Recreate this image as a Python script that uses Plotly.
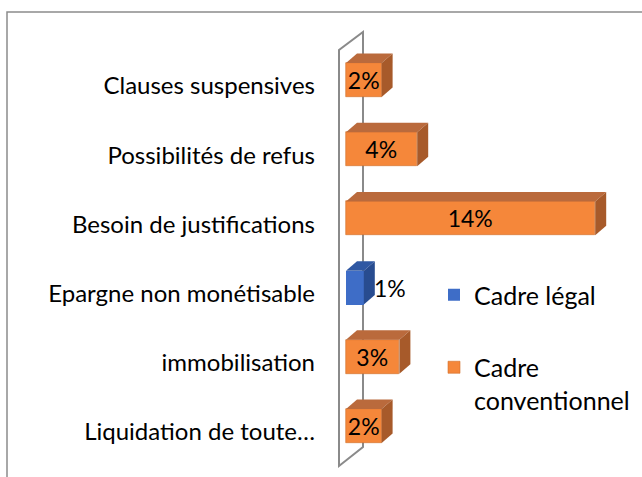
import plotly.graph_objects as go

# ---- data ----
categories = ["Liquidation de toute…", "immobilisation", "Epargne non monétisable",
              "Besoin de justifications", "Possibilités de refus", "Clauses suspensives"]
cadre_legal = [None, None, 1, None, None, None]
cadre_conventionnel = [2, 3, None, 14, 4, 2]
series_names = ["Cadre légal", "Cadre<br>conventionnel"]

# ---- style / geometry ----
W, H = 642, 477
ML, MR, MT, MB = 330, 12, 20, 7
PX_PER_UNIT_X = 17.8          # pixels per 1 %
PX_PER_CAT = 69.2             # pixels per category step
ZERO_PX = 346                 # pixel of value 0
FIRST_CAT_PX = 426            # pixel of the bottom category centre
BAR_W = 0.49
DX = 11 / PX_PER_UNIT_X       # 3D depth in x units
DY = 9.5 / PX_PER_CAT         # 3D depth in category units

x0 = (ML - ZERO_PX) / PX_PER_UNIT_X
x1 = (W - MR - ZERO_PX) / PX_PER_UNIT_X
y0 = (FIRST_CAT_PX - (H - MB)) / PX_PER_CAT
y1 = (FIRST_CAT_PX - MT) / PX_PER_CAT

colors = {
    "legal": dict(front="#3E6DC7", top="#2F58A3", side="#284C90"),
    "conv": dict(front="#F5873A", top="#BA6A3C", side="#A75A2A"),
}
FONT = "Lato"

fig = go.Figure()
fig.add_trace(go.Bar(
    y=categories, x=cadre_legal, orientation="h", name=series_names[0],
    width=BAR_W, marker=dict(color=colors["legal"]["front"], line=dict(width=0)),
    legendgroup="a", hoverinfo="skip"))
fig.add_trace(go.Bar(
    y=categories, x=cadre_conventionnel, orientation="h", name=series_names[1],
    width=BAR_W, marker=dict(color=colors["conv"]["front"],
                             line=dict(width=0.6, color="#D0702C")),
    text=[f"{v}%" if v is not None else "" for v in cadre_conventionnel],
    textposition="inside", insidetextanchor="middle", constraintext="none",
    textfont=dict(family=FONT, size=23, color="black"),
    legendgroup="b", hoverinfo="skip"))

shapes = []
# wall (parallelogram outline) behind the bars
wx_front = (339 - ZERO_PX) / PX_PER_UNIT_X
wx_back = (363 - ZERO_PX) / PX_PER_UNIT_X
wy_top_front = (FIRST_CAT_PX - 50) / PX_PER_CAT
wy_top_back = (FIRST_CAT_PX - 32) / PX_PER_CAT
wy_bot_front = (FIRST_CAT_PX - 466) / PX_PER_CAT
wy_bot_back = (FIRST_CAT_PX - 447) / PX_PER_CAT
shapes.append(dict(
    type="path", xref="x", yref="y", layer="below",
    path=(f"M{wx_front},{wy_bot_front} L{wx_front},{wy_top_front} "
          f"L{wx_back},{wy_top_back} L{wx_back},{wy_bot_back} Z"),
    line=dict(color="#8A8A8A", width=2), fillcolor="rgba(0,0,0,0)"))

# 3D top and side faces computed from values
for vals, key in ((cadre_legal, "legal"), (cadre_conventionnel, "conv")):
    for i, v in enumerate(vals):
        if v is None:
            continue
        yb, yt = i - BAR_W / 2, i + BAR_W / 2
        shapes.append(dict(
            type="path", xref="x", yref="y", layer="above",
            path=f"M0,{yt} L{v},{yt} L{v+DX},{yt+DY} L{DX},{yt+DY} Z",
            fillcolor=colors[key]["top"], line=dict(width=0)))
        shapes.append(dict(
            type="path", xref="x", yref="y", layer="above",
            path=f"M{v},{yb} L{v},{yt} L{v+DX},{yt+DY} L{v+DX},{yb+DY} Z",
            fillcolor=colors[key]["side"], line=dict(width=0)))

# outer chart border (top and left edges visible)
bx = (7 - ML) / (W - ML - MR)
by = ((H - MB) - 12) / (H - MT - MB)
shapes.append(dict(type="path", xref="paper", yref="paper",
                   path=f"M{bx},-0.1 L{bx},{by} L1.2,{by}",
                   line=dict(color="#8C8C8C", width=1.5)))

annotations = []
for i, v in enumerate(cadre_legal):
    if v is None:
        continue
    annotations.append(dict(x=v + DX, y=i, xref="x", yref="y", text=f"{v}%",
                            showarrow=False, xanchor="left", yanchor="middle",
                            xshift=-3, font=dict(family=FONT, size=23, color="black")))

leg_x = (434 - ML) / (W - ML - MR)
leg_y = ((H - MB) - 272) / (H - MT - MB)

fig.update_layout(
    width=W, height=H, margin=dict(l=ML, r=MR, t=MT, b=MB),
    paper_bgcolor="white", plot_bgcolor="white",
    barmode="overlay", bargap=0,
    font=dict(family=FONT, color="black"),
    xaxis=dict(range=[x0, x1], visible=False, fixedrange=True),
    yaxis=dict(range=[y0, y1], showgrid=False, zeroline=False, showline=False,
               ticks="", tickfont=dict(family=FONT, size=24, color="black"),
               ticklabelstandoff=14, ticklabelshift=6, fixedrange=True,
               categoryorder="array", categoryarray=categories),
    legend=dict(x=leg_x, y=leg_y, xanchor="left", yanchor="top",
                font=dict(family=FONT, size=25, color="black"),
                traceorder="grouped", tracegroupgap=37, valign="top",
                bgcolor="rgba(0,0,0,0)"),
    shapes=shapes, annotations=annotations,
)

fig.write_html("out.html", config={"displayModeBar": False},
               post_script="document.body.style.margin='0';")
